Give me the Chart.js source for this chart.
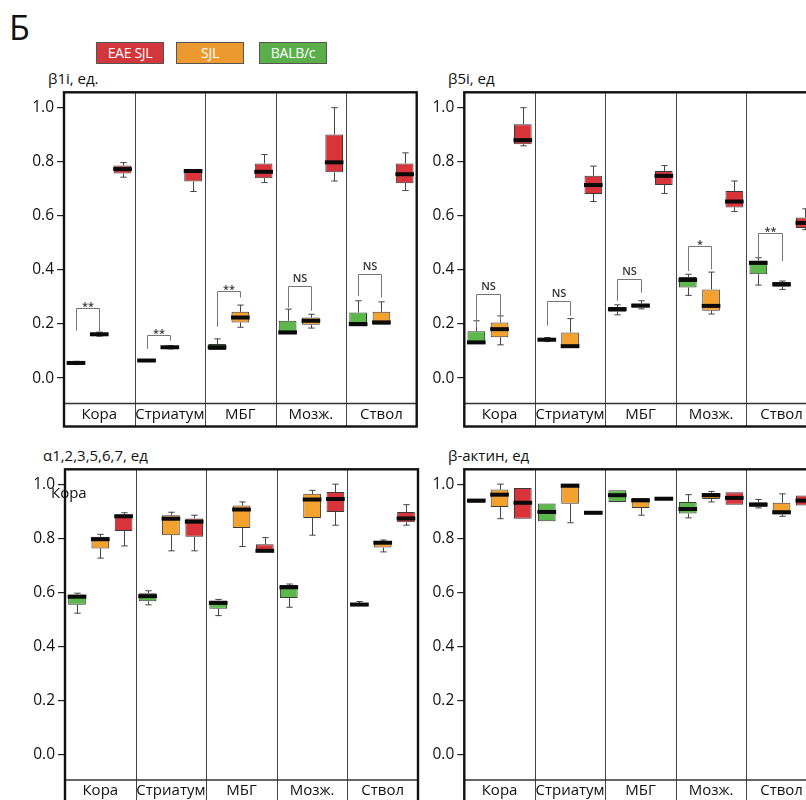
<!DOCTYPE html>
<html>
<head>
<meta charset="utf-8">
<script src="https://cdn.jsdelivr.net/npm/chart.js@4"></script>
<style>
  html, body { margin: 0; padding: 0; background: #fff; overflow: hidden; }
  body { position: relative; width: 806px; height: 800px; font-family: "Open Sans", sans-serif; color: #111; }
  canvas { position: absolute; }
  .txt { position: absolute; white-space: nowrap; }
  .leg { position: absolute; top: 42px; width: 66px; height: 20px; border: 1px solid #555;
         color: #fff; font-size: 14px; letter-spacing: -0.3px; line-height: 20px; text-align: center; }
</style>
</head>
<body>
<div class="txt" style="left:9px; top:4px; font-size:34px;">Б</div>
<div class="leg" style="left:96px; background:#d1373b;">EAE SJL</div>
<div class="leg" style="left:176px; background:#ec9a2f;">SJL</div>
<div class="leg" style="left:259px; background:#5aaf4b;">BALB/c</div>

<div class="txt" style="left:48px; top:68px; font-size:15px;">β1i, ед.</div>
<div class="txt" style="left:448px; top:68px; font-size:15px;">β5i, ед</div>
<div class="txt" style="left:43px; top:445px; font-size:15px;">α1,2,3,5,6,7, ед</div>
<div class="txt" style="left:448px; top:445px; font-size:15px;">β-актин, ед</div>

<canvas id="c1" width="420" height="350" style="left:0px; top:80px;"></canvas>
<canvas id="c2" width="420" height="350" style="left:400px; top:80px;"></canvas>
<canvas id="c3" width="422" height="350" style="left:0px; top:457px;"></canvas>
<canvas id="c4" width="420" height="350" style="left:400px; top:457px;"></canvas>

<div class="txt" style="left:51px; top:482px; font-size:15px;">Кора</div>

<script>
// brain regions and mouse groups
const regions = ["Кора", "Стриатум", "МБГ", "Мозж.", "Ствол"];
const groups = ["BALB/c", "SJL", "EAE SJL"];
const groupColors = ["#5cb84a", "#f3a12f", "#d8343a"];
const yTicks = [0, 0.2, 0.4, 0.6, 0.8, 1.0];

// each row: [min, q1, median, q3, max]
const b1iBalb = [
  [0.050, 0.053, 0.056, 0.060, 0.062],
  [0.061, 0.062, 0.065, 0.067, 0.068],
  [0.104, 0.104, 0.114, 0.126, 0.145],
  [0.161, 0.161, 0.169, 0.212, 0.255],
  [0.191, 0.191, 0.200, 0.243, 0.286]
];
const b1iSjl = [
  [0.155, 0.157, 0.162, 0.168, 0.170],
  [0.108, 0.110, 0.114, 0.118, 0.120],
  [0.188, 0.206, 0.224, 0.245, 0.270],
  [0.185, 0.197, 0.212, 0.224, 0.236],
  [0.197, 0.197, 0.206, 0.245, 0.282]
];
const b1iEae = [
  [0.743, 0.757, 0.773, 0.786, 0.797],
  [0.690, 0.727, 0.766, 0.770, 0.770],
  [0.723, 0.739, 0.763, 0.794, 0.827],
  [0.729, 0.761, 0.798, 0.901, 1.000],
  [0.694, 0.721, 0.754, 0.794, 0.833]
];
// significance brackets: [top, left leg end, right leg end, label]
const b1iSig = [
  [0.261, 0.175, 0.173, "**"],
  [0.160, 0.108, 0.138, "**"],
  [0.322, 0.190, 0.298, "**"],
  [0.341, 0.261, 0.249, "NS"],
  [0.384, 0.304, 0.298, "NS"]
];

const b5iBalb = [
  [0.126, 0.126, 0.132, 0.173, 0.212],
  [0.135, 0.136, 0.142, 0.148, 0.150],
  [0.234, 0.245, 0.255, 0.263, 0.271],
  [0.306, 0.335, 0.363, 0.374, 0.384],
  [0.344, 0.384, 0.426, 0.435, 0.445]
];
const b5iSjl = [
  [0.123, 0.151, 0.181, 0.206, 0.230],
  [0.114, 0.114, 0.118, 0.169, 0.220],
  [0.256, 0.261, 0.268, 0.276, 0.286],
  [0.237, 0.249, 0.267, 0.328, 0.392],
  [0.328, 0.338, 0.347, 0.355, 0.359]
];
const b5iEae = [
  [0.859, 0.865, 0.880, 0.939, 1.000],
  [0.653, 0.681, 0.714, 0.748, 0.784],
  [0.683, 0.714, 0.748, 0.766, 0.786],
  [0.616, 0.631, 0.653, 0.692, 0.729],
  [0.549, 0.555, 0.574, 0.594, 0.626]
];
const b5iSig = [
  [0.310, 0.188, 0.212, "NS"],
  [0.286, 0.194, 0.230, "NS"],
  [0.365, 0.286, 0.316, "NS"],
  [0.488, 0.396, 0.402, "*"],
  [0.537, 0.445, 0.433, "**"]
];

const alphaBalb = [
  [0.524, 0.555, 0.585, 0.593, 0.598],
  [0.555, 0.568, 0.587, 0.598, 0.607],
  [0.515, 0.540, 0.562, 0.571, 0.575],
  [0.546, 0.580, 0.620, 0.628, 0.632],
  [0.550, 0.550, 0.556, 0.561, 0.567]
];
const alphaSjl = [
  [0.728, 0.764, 0.798, 0.807, 0.816],
  [0.755, 0.813, 0.874, 0.887, 0.898],
  [0.771, 0.840, 0.908, 0.923, 0.936],
  [0.813, 0.877, 0.945, 0.966, 0.979],
  [0.751, 0.767, 0.785, 0.791, 0.795]
];
const alphaEae = [
  [0.773, 0.828, 0.883, 0.890, 0.896],
  [0.755, 0.807, 0.863, 0.875, 0.887],
  [0.751, 0.751, 0.755, 0.779, 0.804],
  [0.850, 0.899, 0.947, 0.973, 1.002],
  [0.850, 0.861, 0.875, 0.899, 0.926]
];

const actinBalb = [
  [0.933, 0.933, 0.941, 0.948, 0.948],
  [0.865, 0.865, 0.899, 0.930, 0.930],
  [0.936, 0.936, 0.961, 0.979, 0.979],
  [0.877, 0.893, 0.910, 0.936, 0.963],
  [0.914, 0.918, 0.926, 0.935, 0.945]
];
const actinSjl = [
  [0.874, 0.917, 0.963, 0.982, 1.002],
  [0.859, 0.929, 0.996, 1.004, 1.004],
  [0.887, 0.914, 0.942, 0.951, 0.951],
  [0.936, 0.947, 0.961, 0.969, 0.975],
  [0.883, 0.890, 0.898, 0.933, 0.966]
];
const actinEae = [
  [0.874, 0.874, 0.933, 0.988, 0.988],
  [0.890, 0.890, 0.896, 0.902, 0.902],
  [0.942, 0.942, 0.948, 0.953, 0.953],
  [0.926, 0.926, 0.951, 0.972, 0.972],
  [0.923, 0.923, 0.941, 0.960, 0.960]
];

const FONT = "'Open Sans', sans-serif";

// frame, dividers, whiskers, medians and brackets
const boxPlugin = {
  id: "boxes",
  beforeDatasetsDraw(chart) {
    const ctx = chart.ctx;
    const area = chart.chartArea;
    const xs = chart.scales.x;
    const ys = chart.scales.y;
    ctx.save();
    // dividers between regions
    ctx.strokeStyle = "#444";
    ctx.lineWidth = 1;
    for (let i = 1; i < regions.length; i++) {
      const x = Math.round((xs.getPixelForValue(i - 1) + xs.getPixelForValue(i)) / 2) + 0.5;
      ctx.beginPath();
      ctx.moveTo(x, area.top);
      ctx.lineTo(x, xs.bottom);
      ctx.stroke();
    }
    // axis line
    ctx.strokeStyle = "#333";
    ctx.lineWidth = 1.5;
    ctx.beginPath();
    ctx.moveTo(area.left, area.bottom);
    ctx.lineTo(area.right, area.bottom);
    ctx.stroke();
    // outer frame
    ctx.strokeStyle = "#111";
    ctx.lineWidth = 2.4;
    ctx.strokeRect(area.left, area.top, area.right - area.left, xs.bottom - area.top);

    // whiskers
    ctx.strokeStyle = "#444";
    ctx.lineWidth = 1;
    chart.data.datasets.forEach((ds, di) => {
      const meta = chart.getDatasetMeta(di);
      ds.stats.forEach((s, j) => {
        const el = meta.data[j];
        const cx = Math.round(el.x) + 0.5;
        const cap = el.width * 0.18;
        [[s[0], s[1]], [s[4], s[3]]].forEach(([end, edge]) => {
          if (Math.abs(end - edge) < 0.001) return;
          const y1 = ys.getPixelForValue(end);
          const y2 = ys.getPixelForValue(edge);
          ctx.beginPath();
          ctx.moveTo(cx, y1);
          ctx.lineTo(cx, y2);
          ctx.moveTo(cx - cap, y1);
          ctx.lineTo(cx + cap, y1);
          ctx.stroke();
        });
      });
    });
    ctx.restore();
  },
  afterDatasetsDraw(chart) {
    const ctx = chart.ctx;
    const ys = chart.scales.y;
    ctx.save();
    // medians
    ctx.strokeStyle = "#0a0a0a";
    ctx.lineWidth = 4;
    chart.data.datasets.forEach((ds, di) => {
      const meta = chart.getDatasetMeta(di);
      ds.stats.forEach((s, j) => {
        const el = meta.data[j];
        const y = ys.getPixelForValue(s[2]);
        ctx.beginPath();
        ctx.moveTo(el.x - el.width / 2 - 0.5, y);
        ctx.lineTo(el.x + el.width / 2 + 0.5, y);
        ctx.stroke();
      });
    });
    // significance brackets between BALB/c and SJL
    const sig = chart.options.plugins.boxes.sig;
    if (sig) {
      const m0 = chart.getDatasetMeta(0);
      const m1 = chart.getDatasetMeta(1);
      ctx.strokeStyle = "#777";
      ctx.lineWidth = 1;
      ctx.fillStyle = "#333";
      ctx.textAlign = "center";
      ctx.textBaseline = "alphabetic";
      ctx.font = "600 11px " + FONT;
      sig.forEach((b, j) => {
        const x0 = Math.round(m0.data[j].x) + 0.5;
        const x1 = Math.round(m1.data[j].x) + 0.5;
        const yt = Math.round(ys.getPixelForValue(b[0])) + 0.5;
        ctx.beginPath();
        ctx.moveTo(x0, ys.getPixelForValue(b[1]));
        ctx.lineTo(x0, yt);
        ctx.lineTo(x1, yt);
        ctx.lineTo(x1, ys.getPixelForValue(b[2]));
        ctx.stroke();
        const dy = b[3] === "NS" ? -5 : 1;
        ctx.fillText(b[3], (x0 + x1) / 2, yt + dy);
      });
    }
    ctx.restore();
  }
};

const makePanel = (id, series, sig, pad) => {
  const datasets = series.map((stats, i) => ({
    label: groups[i],
    data: stats.map((s) => [s[1], s[3]]),
    stats: stats,
    backgroundColor: groupColors[i],
    borderColor: "#3a3a3a",
    borderWidth: 1,
    borderSkipped: false,
    categoryPercentage: 0.99,
    barPercentage: 0.76
  }));
  return new Chart(document.getElementById(id), {
    type: "bar",
    data: { labels: regions, datasets: datasets },
    plugins: [boxPlugin],
    options: {
      responsive: false,
      animation: false,
      layout: { padding: pad },
      plugins: {
        legend: { display: false },
        tooltip: { enabled: false },
        boxes: { sig: sig }
      },
      scales: {
        x: {
          offset: true,
          grid: { display: false, drawTicks: false },
          border: { display: false },
          ticks: {
            color: "#111",
            font: { family: FONT, size: 15 },
            padding: 2,
            maxRotation: 0,
            autoSkip: false
          },
          afterFit: (s) => { s.height = 23; }
        },
        y: {
          min: -0.094,
          max: 1.057,
          afterBuildTicks: (s) => { s.ticks = yTicks.map((v) => ({ value: v })); },
          grid: { drawOnChartArea: false, drawTicks: true, tickLength: 7, color: "#222", lineWidth: 1.2 },
          border: { display: false },
          ticks: {
            color: "#111",
            font: { family: FONT, size: 15.5 },
            padding: 3,
            callback: (v) => v.toFixed(1)
          },
          afterFit: (s) => { s.width = 54; }
        }
      }
    }
  });
};

makePanel("c1", [b1iBalb, b1iSjl, b1iEae], b1iSig, { left: 10, right: 3.3, top: 10.5, bottom: 3.5 });
makePanel("c2", [b5iBalb, b5iSjl, b5iEae], b5iSig, { left: 10.3, right: 3.2, top: 10.5, bottom: 3.5 });
makePanel("c3", [alphaBalb, alphaSjl, alphaEae], null, { left: 11, right: 4, top: 10, bottom: 4 });
makePanel("c4", [actinBalb, actinSjl, actinEae], null, { left: 10.3, right: 3.2, top: 10, bottom: 4 });
</script>
</body>
</html>
